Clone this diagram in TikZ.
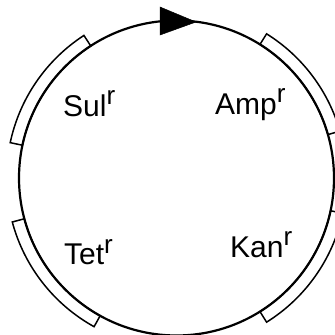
\documentclass[tikz,border=0pt]{standalone}
\usepackage{fontspec}
\setmainfont{Liberation Sans}
\newcommand{\supr}{\raisebox{12pt}{\fontsize{26}{28}\selectfont r}}
\begin{document}
\begin{tikzpicture}[x=1pt,y=1pt,
  ring/.style={line width=2.2pt},
  genebox/.style={draw=black,fill=white,line width=1.5pt,line join=miter},
  lbl/.style={inner sep=0pt,anchor=base west,font=\fontsize{30}{32}\selectfont},
  tri/.style={fill=black,draw=black,line width=0.5pt}]
\useasboundingbox (0,0) rectangle (335,335);
\coordinate (c) at (176.5,157);
\begin{scope}[shift={(c)}]
  \draw[genebox] (16:157.5) arc[start angle=16,end angle=58,radius=157.5] -- (58:170) arc[start angle=58,end angle=16,radius=170] -- cycle;
  \draw[genebox] (-58:157.5) arc[start angle=-58,end angle=-12,radius=157.5] -- (-12:170) arc[start angle=-12,end angle=-58,radius=170] -- cycle;
  \draw[genebox] (195:157.5) arc[start angle=195,end angle=241,radius=157.5] -- (241:170) arc[start angle=241,end angle=195,radius=170] -- cycle;
  \draw[genebox] (123:157.5) arc[start angle=123,end angle=168,radius=157.5] -- (168:170) arc[start angle=168,end angle=123,radius=170] -- cycle;
  \draw[ring] (0,0) circle[radius=157.5];
\end{scope}
\coordinate (t1) at (160,328);
\coordinate (t2) at (160,300);
\coordinate (t3) at (196,313);
\fill[tri] (t1) -- (t3) -- (t2) -- cycle;
\node[lbl] (sul) at (63,218) {Sul\supr};
\node[lbl] (amp) at (215,220) {Amp\supr};
\node[lbl] (tet) at (64,70) {Tet\supr};
\node[lbl] (kan) at (230,77) {Kan\supr};
\end{tikzpicture}
\end{document}
